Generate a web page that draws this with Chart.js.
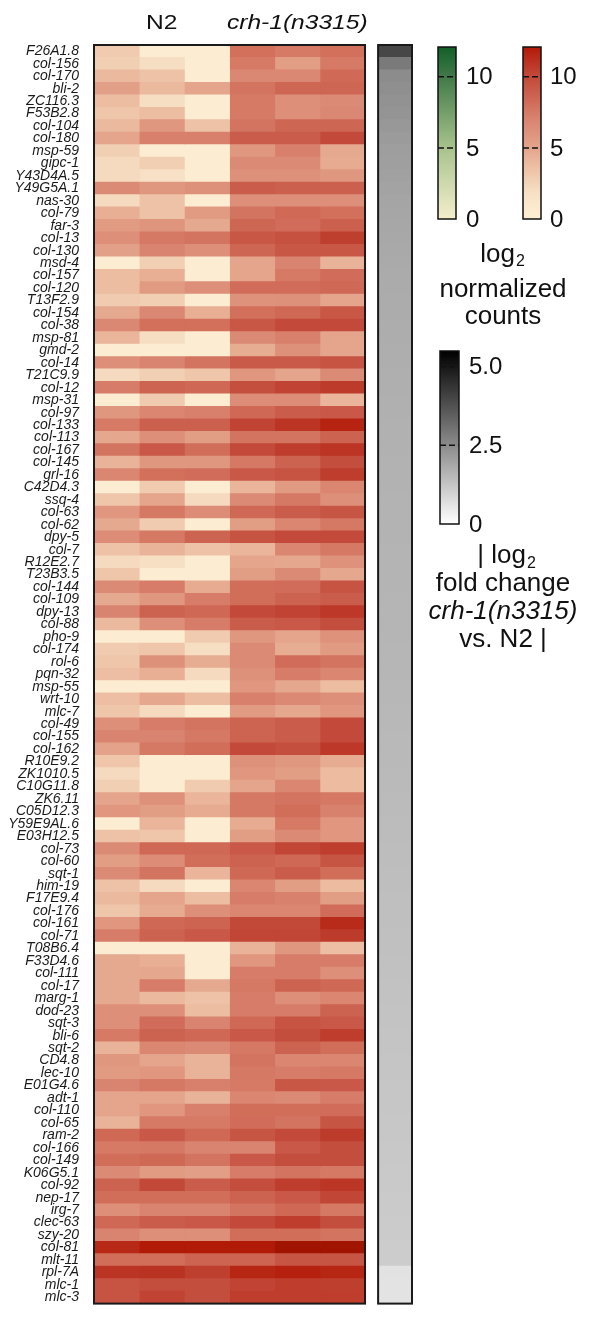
<!DOCTYPE html>
<html><head><meta charset="utf-8">
<script src="https://cdn.jsdelivr.net/npm/chart.js@4.4.1/dist/chart.umd.min.js"></script>
<style>html,body{margin:0;padding:0;background:#fff;overflow:hidden;} #wrap{width:589px;height:1327px;position:relative;}</style>
</head><body><div id="wrap"><canvas id="c" width="589" height="1327"></canvas></div>
<script>
const genes = ['F26A1.8','col-156','col-170','bli-2','ZC116.3','F53B2.8','col-104','col-180','msp-59','gipc-1',
'Y43D4A.5','Y49G5A.1','nas-30','col-79','far-3','col-13','col-130','msd-4','col-157','col-120',
'T13F2.9','col-154','col-38','msp-81','gmd-2','col-14','T21C9.9','col-12','msp-31','col-97',
'col-133','col-113','col-167','col-145','grl-16','C42D4.3','ssq-4','col-63','col-62','dpy-5',
'col-7','R12E2.7','T23B3.5','col-144','col-109','dpy-13','col-88','pho-9','col-174','rol-6',
'pqn-32','msp-55','wrt-10','mlc-7','col-49','col-155','col-162','R10E9.2','ZK1010.5','C10G11.8',
'ZK6.11','C05D12.3','Y59E9AL.6','E03H12.5','col-73','col-60','sqt-1','him-19','F17E9.4','col-176',
'col-161','col-71','T08B6.4','F33D4.6','col-111','col-17','marg-1','dod-23','sqt-3','bli-6',
'sqt-2','CD4.8','lec-10','E01G4.6','adt-1','col-110','col-65','ram-2','col-166','col-149',
'K06G5.1','col-92','nep-17','irg-7','clec-63','szy-20','col-81','mlt-11','rpl-7A','mlc-1','mlc-3'];

// log2 normalized counts, three N2 replicates and three crh-1(n3315) replicates
const n2Rep1 = [3,2.8,4,5.3,3.8,3.3,4,5,2.8,2.2, 2.2,6.6,2.2,4.5,5.6,6.3,5.3,0.5,3.8,3.8,
 3,4.8,6.8,4.2,0.5,6.3,2.2,7.4,0.5,5.8, 7.5,4.9,7.8,4.3,6.9,0.5,3.3,5.9,4.8,6.5,
 3.5,2.2,3.3,6.6,4.8,7,4,0.5,3,3.3, 3.7,0.5,3.7,3.3,6.3,7,5.2,3.3,2.2,2.8,
 5,5.9,0.5,3.5,6.6,5.5,6.6,3.5,4,3.3, 5.9,7.4,0.5,4.8,4.8,4.8,4.8,6.3,6.3,7.5,
 4.3,5.8,5.6,7,5,5,4.3,8.4,7.5,8.1, 6.6,8.7,8.1,6.3,8.4,7,11.5,8.1,11,9.5,9.5];
const n2Rep2 = [0.5,2,3.5,4,2,3.8,5.8,7.2,0.5,2.8, 1.8,5.8,3.5,3.5,6,7.6,7,2.8,4.5,5.6,
 2.8,6.8,8,2,0.5,7,2.8,8.6,3,6.9, 8.8,6.3,9.2,5.8,8,3,5,7.6,3,7.6,
 4.3,1.9,0.5,7.4,5.8,8.7,6.3,0.5,3.3,6.2, 4.5,0.5,4.9,2.2,7.4,7,7.6,0.5,0.5,0.5,
 6.2,5.5,4.2,3.3,8.4,6.5,7.8,2.2,5,4.7, 8.4,8.7,0.5,4.5,4.9,7.4,4,6.3,8.2,8.7,
 6.9,5,5.9,7.6,5,5.9,7.5,9.2,7.6,8.4, 5.6,10.1,8.1,7,9,6.3,12.2,8.1,11.1,9.8,10.3];
const n2Rep3 = [0.5,0.5,0.5,5,0.5,0.5,3.5,7.2,0.5,0.5, 0.5,6.2,0.5,5.6,4.8,7.8,6.3,0.5,0.5,6.3,
 0.5,4.5,8,0.5,0.5,7.8,3.3,8.4,0.5,7.2, 8.8,5.5,8.1,5.8,8.2,0.5,2.2,6.5,0.5,8.6,
 3.5,0.5,0.5,4.7,7.4,8.4,7.4,3,2,4.6, 2.2,0.5,3.8,0.5,7.8,7.6,8.1,0.5,0.5,3,
 4.2,4.7,0.5,0.5,8.4,8.1,4.2,0.5,3.8,6.3, 8.6,9.2,0.5,0.5,0.5,4.8,3.5,3.8,7,8.4,
 6.6,4.3,4.3,7.2,4.3,7.2,7.5,8.4,7,7.8, 5.4,9,8.1,7,9.2,6.3,12.2,8.6,10.5,9.8,9.8];
const crhRep1 = [8,7.5,6.8,7.8,7.5,7.5,7.8,9,5.8,6.6, 6.2,9,6.3,7.8,8.5,9.3,8.5,5,5,8.2,
 6.1,8,9.3,6.6,4.6,9.1,5.9,9.7,6.5,8.4, 10.3,7.8,10,7.6,9.2,4.2,6.6,8.4,5.5,9.5,
 4.2,5,5.5,8.1,8.1,10,9,5.8,6.6,6.6, 6.2,5.9,7.2,5.6,8.6,8.6,10,6.2,5.9,5,
 7.6,7.6,4.7,5.5,9.2,8.7,8.4,6.9,7.4,6.9, 10.1,10.2,4.3,5.9,7.4,7.6,7.4,7.4,8.4,9.2,
 7.6,7.8,7.6,7.5,6.9,8.1,8.2,9.4,7,9.2, 7.4,9.8,8.7,7.8,10,8.1,12.2,8.6,11.6,10.3,10.6];
const crhRep2 = [7.5,5.5,6.8,8.5,6.3,6.3,8.5,9,7.2,6.6, 6.2,8.8,6.3,8.3,8.2,9.6,9.3,7,7.5,8.2,
 6.2,8.4,10,7.2,6.2,9.1,5,10.3,6.5,9, 11,7.8,10.6,8.7,9.5,5.6,7.6,9,6.9,10,
 6.9,4.9,6.6,8.2,8.7,10.3,9.2,5,4.6,8.2, 7.4,4.9,6.7,4.9,9,9,9.7,5.8,5.5,6.9,
 7.8,8.1,7.5,6.6,10.2,8.4,9,5.5,7.1,6.9, 10.1,10.2,5.8,7.4,7.4,8.7,6.3,7.4,9.5,9.8,
 8.7,6.9,7.4,9.3,6.6,8.1,7.8,10,9.2,9.8, 7.8,10.6,9.2,8.4,10.6,8.1,13,9.4,11.8,10.6,10.6];
const crhRep3 = [8,7.5,8.3,8.5,6.6,6.8,8.5,10,4.8,4.7, 5.8,8.8,6.3,8,8.8,10.5,9.3,4.3,8.2,8.4,
 5,9.3,10,5,5,9.5,6.6,10.7,4.2,9.2, 11.7,8.7,11,9.8,10.6,6.9,6.3,9.4,7.6,10,
 7.6,6.1,4.9,9.5,9,10.8,9.8,6.1,5.6,7.8, 6.9,3.8,6.3,5.9,10,10,10.8,4.7,3.9,3.9,
 7.6,7.1,5.9,5.9,10.6,9.4,8.1,3.9,5.5,8.2, 11.4,10.7,3.7,7.4,6.3,8.4,6.9,8.7,9.2,10.6,
 8.1,6.9,7.6,9.2,7.4,8.2,9.4,10.7,9.8,9.8, 7.6,10.9,10.2,7.6,9.8,7.8,13,9.4,11.6,10.5,10.6];

// |log2 fold change crh-1(n3315) vs. N2|
const fcAbs = [3.97,2.87,2.48,2.42,2.36,2.30,2.22,2.16,2.10,2.06,2.02,1.98,1.95,1.92,1.90,1.88,1.86,1.84,1.82,1.81,1.80,1.78,1.77,1.76,1.75,
 1.74,1.73,1.72,1.71,1.70,1.69,1.69,1.68,1.67,1.66,1.66,1.65,1.64,1.63,1.63,1.62,1.62,1.61,1.61,1.60,1.60,1.59,1.59,1.58,1.58,
 1.57,1.56,1.55,1.54,1.53,1.52,1.51,1.50,1.49,1.48,1.47,1.46,1.45,1.44,1.43,1.42,1.41,1.40,1.39,1.38,1.37,1.36,1.35,1.34,1.33,
 1.32,1.31,1.30,1.29,1.28,1.27,1.26,1.25,1.24,1.23,1.22,1.21,1.20,1.19,1.18,1.17,1.16,1.15,1.14,1.13,1.12,1.11,1.10,0.62,0.61,0.60];

const groupLabels = ['N2', 'crh-1(n3315)'];
const countTicks = [0, 5, 10];
const fcTicks = [0, 2.5, 5.0];
const fcTickLabels = ['0', '2.5', '5.0'];
const countMax = 12.1, fcMax = 5.5;

const FONT = "'Liberation Sans', Arial, Helvetica, sans-serif";

const redStops = [[0,[253,239,212]],[1,[251,232,205]],[2,[246,222,195]],[3,[240,203,175]],[4,[235,185,158]],
 [5,[228,165,140]],[6,[223,148,125]],[7,[217,132,112]],[8,[210,112,92]],[9,[202,92,75]],[10,[195,74,58]],
 [11,[187,52,36]],[12,[180,28,8]],[13,[160,20,0]]];
const greenStops = [[0,[245,238,205]],[5,[168,195,140]],[10,[65,122,72]],[12.1,[18,95,40]]];
function interp(stops, v) {
  if (v <= stops[0][0]) return stops[0][1];
  for (let i = 1; i < stops.length; i++) {
    if (v <= stops[i][0]) {
      const [a, ca] = stops[i-1], [b, cb] = stops[i];
      const t = (v - a) / (b - a);
      return ca.map((c, k) => Math.round(c + (cb[k] - c) * t));
    }
  }
  return stops[stops.length-1][1];
}
const rgb = c => `rgb(${c[0]},${c[1]},${c[2]})`;
const redScale = v => rgb(interp(redStops, v));
const greenScale = v => rgb(interp(greenStops, v));
const grayScale = v => { const g = Math.round(255 * (1 - Math.min(v, fcMax) / fcMax)); return rgb([g,g,g]); };

const columns = [n2Rep1, n2Rep2, n2Rep3, crhRep1, crhRep2, crhRep3];
const GRAY_COL = [6.29, 7.04];
const common = { borderWidth: 0, barPercentage: 1, categoryPercentage: 1, grouped: false, inflateAmount: 0.4 };
const datasets = columns.map((vals, c) => Object.assign({
  data: vals.map(() => [c, c + 1]),
  backgroundColor: vals.map(redScale)
}, common));
datasets.push(Object.assign({
  data: fcAbs.map(() => GRAY_COL.slice()),
  backgroundColor: fcAbs.map(grayScale)
}, common));

function colorbar(ctx, x, top, bottom, w, max, colorFn, ticks, labels, labelX) {
  const h = bottom - top;
  const grad = ctx.createLinearGradient(0, bottom, 0, top);
  for (let k = 0; k <= 40; k++) { const t = k / 40; grad.addColorStop(t, colorFn(t * max)); }
  ctx.fillStyle = grad;
  ctx.fillRect(x, top, w, h);
  ctx.lineWidth = 1.5; ctx.strokeStyle = '#111'; ctx.setLineDash([]);
  ctx.strokeRect(x, top, w, h);
  ctx.font = '24px ' + FONT; ctx.fillStyle = '#111'; ctx.textAlign = 'left'; ctx.textBaseline = 'middle';
  ticks.forEach((v, i) => {
    const y = bottom - v / max * h;
    if (v > 0) {
      ctx.setLineDash([6, 3]); ctx.lineWidth = 1.5;
      ctx.beginPath(); ctx.moveTo(x, y); ctx.lineTo(x + w, y); ctx.stroke();
      ctx.setLineDash([]);
    }
    ctx.fillText(labels[i], labelX, y + 1);
  });
}
function logText(ctx, prefix, cx, y, subOff) {
  ctx.font = '26px ' + FONT; const w1 = ctx.measureText(prefix).width;
  ctx.font = '16px ' + FONT; const w2 = ctx.measureText('2').width;
  const start = cx - (w1 + w2) / 2;
  ctx.textAlign = 'left'; ctx.textBaseline = 'alphabetic';
  ctx.font = '26px ' + FONT; ctx.fillText(prefix, start, y);
  ctx.font = '16px ' + FONT; ctx.fillText('2', start + w1 + 1, y + subOff);
}
function centered(ctx, text, cx, y, font, sx) {
  ctx.save(); ctx.font = font; ctx.textAlign = 'center'; ctx.textBaseline = 'alphabetic';
  ctx.translate(cx, y); ctx.scale(sx || 1, 1); ctx.fillText(text, 0, 0); ctx.restore();
}

const decor = {
  id: 'decor',
  afterDatasetsDraw(chart) {
    const { ctx, chartArea: { top, bottom }, scales: { x } } = chart;
    ctx.save();
    ctx.strokeStyle = '#1a1a1a'; ctx.lineWidth = 2;
    const x0 = x.getPixelForValue(0), x6 = x.getPixelForValue(6);
    ctx.strokeRect(x0, top, x6 - x0, bottom - top);
    const g0 = x.getPixelForValue(GRAY_COL[0]), g1 = x.getPixelForValue(GRAY_COL[1]);
    ctx.strokeRect(g0, top, g1 - g0, bottom - top);
    ctx.fillStyle = '#111';
    centered(ctx, groupLabels[0], x.getPixelForValue(1.5), 29, '21px ' + FONT, 1.17);
    centered(ctx, groupLabels[1], x.getPixelForValue(4.5), 29, 'italic 21px ' + FONT, 1.17);

    colorbar(ctx, 438, 47, 219, 18, countMax, greenScale, countTicks, countTicks.map(String), 466);
    colorbar(ctx, 523, 47, 219, 18, countMax, redScale, countTicks, countTicks.map(String), 550);
    ctx.fillStyle = '#111';
    logText(ctx, 'log', 502, 262, 4);
    centered(ctx, 'normalized', 503, 297, '26px ' + FONT);
    centered(ctx, 'counts', 503, 324, '26px ' + FONT);

    colorbar(ctx, 440, 351, 524, 19, fcMax, grayScale, fcTicks, fcTickLabels, 469);
    ctx.fillStyle = '#111';
    logText(ctx, '| log', 506, 563, 5);
    centered(ctx, 'fold change', 503, 591, '26px ' + FONT);
    centered(ctx, 'crh-1(n3315)', 503, 619, 'italic 26px ' + FONT);
    centered(ctx, 'vs. N2 |', 503, 647, '26px ' + FONT);
    ctx.restore();
  }
};

new Chart(document.getElementById('c'), {
  type: 'bar',
  data: { labels: genes, datasets },
  options: {
    indexAxis: 'y',
    responsive: false,
    animation: false,
    devicePixelRatio: 1,
    layout: { padding: { top: 45, bottom: 3, left: 0, right: 177 } },
    plugins: { legend: { display: false }, tooltip: { enabled: false } },
    scales: {
      x: { type: 'linear', min: 0, max: GRAY_COL[1], display: false },
      y: {
        type: 'category', offset: true,
        grid: { display: false, drawTicks: false }, border: { display: false },
        ticks: { autoSkip: false, padding: 15, color: '#1a1a1a', font: { family: FONT, size: 14, style: 'italic' } },
        afterFit: s => { s.width = 94; }
      }
    }
  },
  plugins: [decor]
});
</script></body></html>
